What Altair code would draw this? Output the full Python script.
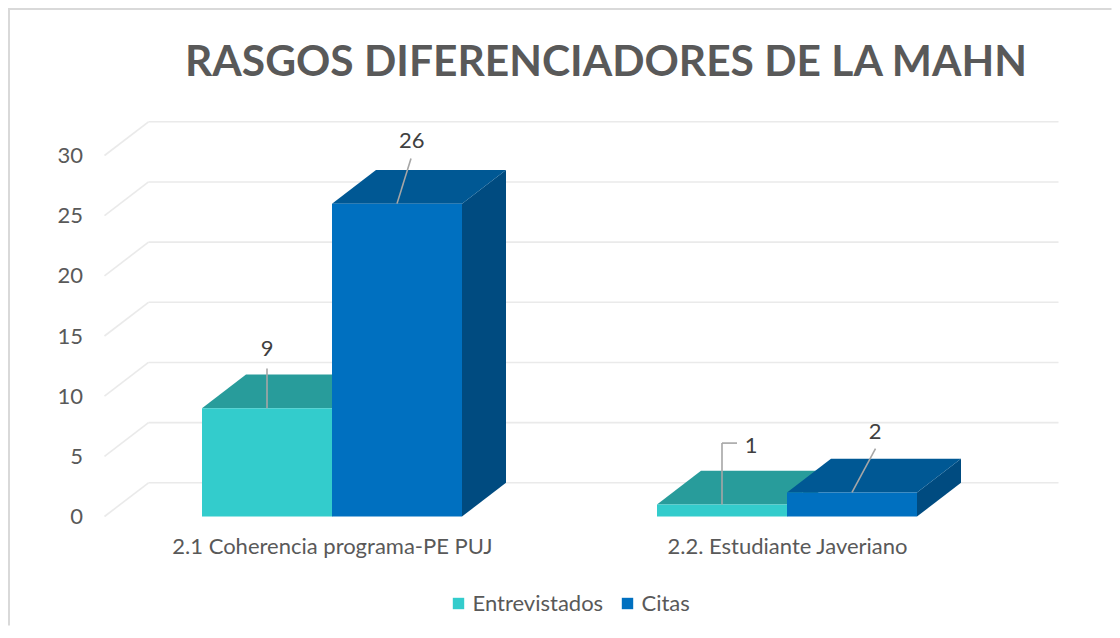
import altair as alt
import pandas as pd

# ---------------- data ----------------
categories = ["2.1 Coherencia programa-PE PUJ", "2.2. Estudiante Javeriano"]
series_names = ["Entrevistados", "Citas"]
entrevistados = [9, 1]
citas = [26, 2]
y_ticks = [0, 5, 10, 15, 20, 25, 30]

# ---------------- styling / layout ----------------
front_colors = ["#33CCCC", "#0070C0"]
top_colors = ["#289C9B", "#005894"]
side_colors = ["#1F7F7F", "#004B80"]
FONT = "Lato"
TEXT_COLOR = "#595959"
FS = 22

UNIT_PX = 455.0            # pixels per category slot
BAR_W = 130 / UNIT_PX      # bar width in category units
DX = 44 / UNIT_PX          # 3-D depth, horizontal (category units)
DY = 2.8                   # 3-D depth, vertical (value units)
X_DOMAIN = [-0.5, 1.5]
Y_DOMAIN = [0, 30]

# manual data-label placement: (horizontal px shift, value units above bar top)
label_shift = [(0, 4.9), (14.7, 5.2), (29, 4.9), (23, 5.0)]
leader_end = [(0, 3.3), (14, 3.75), (15, 5.1), (23.5, 3.65)]
leader_elbow = [False, False, True, False]

# ---------------- derived tables ----------------
values = {"Entrevistados": entrevistados, "Citas": citas}
rows = []
k = 0
for ci, cat in enumerate(categories):
    for si, s in enumerate(series_names):
        v = values[s][ci]
        x0 = ci - BAR_W + si * BAR_W
        rows.append(dict(bar=k, cat=cat, series=s, value=v,
                         x0=x0, x1=x0 + BAR_W, xc=x0 + BAR_W / 2))
        k += 1
bars = pd.DataFrame(rows)

top_rows, side_rows = [], []
for r in rows:
    top_rows.append(dict(bar=r["bar"], series=r["series"], ty=r["value"],
                         xa=r["x0"], xb=r["x1"]))
    top_rows.append(dict(bar=r["bar"], series=r["series"], ty=r["value"] + DY,
                         xa=r["x0"] + DX, xb=r["x1"] + DX))
    side_rows.append(dict(bar=r["bar"], series=r["series"], sx=r["x1"],
                          ya=0, yb=r["value"]))
    side_rows.append(dict(bar=r["bar"], series=r["series"], sx=r["x1"] + DX,
                          ya=DY, yb=r["value"] + DY))
tops = pd.DataFrame(top_rows)
sides = pd.DataFrame(side_rows)

grid_rows = []
for t in y_ticks:
    grid_rows.append(dict(gx=X_DOMAIN[0], gx2=X_DOMAIN[0] + DX, gy=t, gy2=t + DY))
    grid_rows.append(dict(gx=X_DOMAIN[0] + DX, gx2=X_DOMAIN[1] + DX, gy=t + DY, gy2=t + DY))
grid = pd.DataFrame(grid_rows)

label_rows, leader_rows = [], []
for r, (sh, up), (ex, ey), elbow in zip(rows, label_shift, leader_end, leader_elbow):
    label_rows.append(dict(lx=r["xc"] + sh / UNIT_PX, ly=r["value"] + up, txt=str(r["value"])))
    if elbow:
        leader_rows.append(dict(a=r["xc"], a2=r["xc"], b=r["value"], b2=r["value"] + ey))
        leader_rows.append(dict(a=r["xc"], a2=r["xc"] + ex / UNIT_PX,
                                b=r["value"] + ey, b2=r["value"] + ey))
    else:
        leader_rows.append(dict(a=r["xc"], a2=r["xc"] + ex / UNIT_PX,
                                b=r["value"], b2=r["value"] + ey))
labels = pd.DataFrame(label_rows)
leaders = pd.DataFrame(leader_rows)

# ---------------- chart ----------------
xs = alt.Scale(domain=X_DOMAIN, nice=False, zero=False)
ys = alt.Scale(domain=Y_DOMAIN, nice=False, zero=True)

label_expr = "[" + ",".join("'" + c + "'" for c in categories) + "][datum.value]"
x_axis = alt.Axis(values=[0, 1], labelExpr=label_expr, title=None, domain=False,
                  ticks=False, grid=False, labelPadding=20, labelFontSize=FS,
                  labelColor=TEXT_COLOR, labelFont=FONT, labelLimit=0)
y_axis = alt.Axis(values=y_ticks, title=None, domain=False, ticks=False, grid=False,
                  labelPadding=22, labelFontSize=FS, labelColor=TEXT_COLOR,
                  labelFont=FONT)

gridlayer = alt.Chart(grid).mark_rule(color="#EAEAEA", strokeWidth=1.6).encode(
    x=alt.X("gx:Q", scale=xs, axis=x_axis),
    x2="gx2:Q",
    y=alt.Y("gy:Q", scale=ys, axis=y_axis),
    y2="gy2:Q",
)

sidelayer = alt.Chart(sides).mark_area(orient="vertical", opacity=1).encode(
    x=alt.X("sx:Q", scale=xs, axis=x_axis),
    y=alt.Y("ya:Q", scale=ys, axis=y_axis, stack=None),
    y2="yb:Q",
    detail="bar:N",
    color=alt.Color("series:N", scale=alt.Scale(domain=series_names, range=side_colors),
                    legend=None),
)

toplayer = alt.Chart(tops).mark_area(orient="horizontal", opacity=1).encode(
    y=alt.Y("ty:Q", scale=ys, axis=y_axis),
    x=alt.X("xa:Q", scale=xs, axis=x_axis, stack=None),
    x2="xb:Q",
    detail="bar:N",
    color=alt.Color("series:N", scale=alt.Scale(domain=series_names, range=top_colors),
                    legend=None),
)

frontlayer = alt.Chart(bars).mark_rect(strokeWidth=0).encode(
    x=alt.X("x0:Q", scale=xs, axis=x_axis),
    x2="x1:Q",
    y=alt.Y("value:Q", scale=ys, axis=y_axis),
    y2=alt.datum(0),
    color=alt.Color(
        "series:N",
        scale=alt.Scale(domain=series_names, range=front_colors),
        legend=alt.Legend(title=None, orient="none", legendX=343, legendY=437,
                          direction="horizontal", symbolType="square",
                          symbolSize=130, symbolStrokeWidth=0, labelFontSize=FS,
                          labelFont=FONT, labelColor=TEXT_COLOR, columnPadding=13,
                          labelOffset=3, padding=0),
    ),
)

leaderlayer = alt.Chart(leaders).mark_rule(color="#A6A6A6", strokeWidth=1.6).encode(
    x=alt.X("a:Q", scale=xs, axis=x_axis),
    x2="a2:Q",
    y=alt.Y("b:Q", scale=ys, axis=y_axis),
    y2="b2:Q",
)

labellayer = alt.Chart(labels).mark_text(fontSize=FS, font=FONT, color="#404040",
                                         baseline="middle", align="center").encode(
    x=alt.X("lx:Q", scale=xs, axis=x_axis),
    y=alt.Y("ly:Q", scale=ys, axis=y_axis),
    text="txt:N",
)

border_df = pd.DataFrame({"k": [0]})
border_left = alt.Chart(border_df).mark_rule(color="#D9D9D9", strokeWidth=2).encode(
    x=alt.value(-95.5), y=alt.value(-147.5), y2=alt.value(470))
border_top = alt.Chart(border_df).mark_rule(color="#D9D9D9", strokeWidth=2).encode(
    x=alt.value(-96.5), x2=alt.value(1007), y=alt.value(-146.5))

chart = alt.layer(
    gridlayer, sidelayer, toplayer, frontlayer,
    leaderlayer, labellayer, border_left, border_top,
).resolve_scale(color="independent").properties(
    width=910,
    height=361,
    autosize=alt.AutoSizeParams(type="none"),
    padding={"left": 96.5, "top": 147.5, "right": 97.5, "bottom": 112},
    background="white",
    title=alt.TitleParams(
        "RASGOS DIFERENCIADORES DE LA MAHN", fontSize=42.5, font=FONT,
        fontWeight="bold", color=TEXT_COLOR, anchor="middle", dx=46.5, offset=-77,
    ),
).configure_view(stroke=None)

chart.save("out.html", embed_options={"renderer": "svg", "actions": False})
